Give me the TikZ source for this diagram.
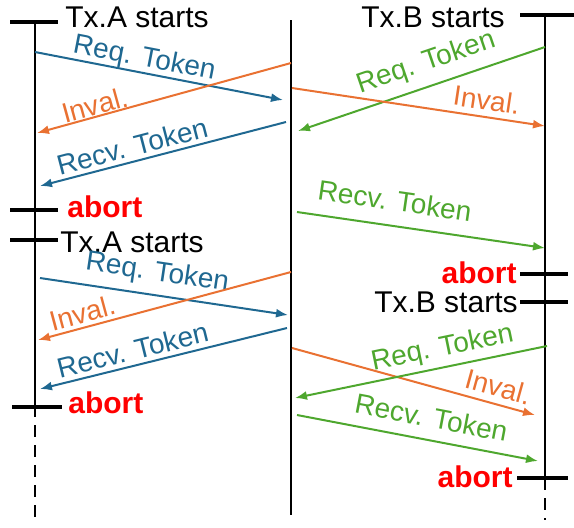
\documentclass[tikz,border=0pt]{standalone}
\usepackage{fontspec}
\setmainfont{Liberation Sans}
\usepackage{tikz}
\usetikzlibrary{arrows.meta}
\definecolor{reqblue}{HTML}{1F6891}
\definecolor{invorange}{HTML}{E97132}
\definecolor{txgreen}{HTML}{4EA72E}
\definecolor{abortred}{HTML}{FF0000}

\begin{document}
\begin{tikzpicture}[x=0.5pt, y=-0.5pt,
        every node/.style={font=\fontsize{14}{16}\selectfont, inner sep=0pt},
        life/.style={line width=1.2pt},
        tick/.style={line width=2pt},
        msg/.style={line width=1pt, -{Latex[length=6pt, width=4.5pt]}},
        lab/.style={sloped, font=\fontsize{14}{16}\selectfont},
        txt/.style={font=\fontsize{15}{17}\selectfont},
        abt/.style={font=\fontsize{15}{17}\selectfont\bfseries, text=abortred}]
      \useasboundingbox (0,0) rectangle (574,527);
      % lifelines
      \coordinate (lA) at (35,22);
      \coordinate (lAend) at (35,405);
      \coordinate (lAdash) at (35,517);
      \coordinate (lM) at (291,20);
      \coordinate (lMend) at (291,515);
      \coordinate (lB) at (545,15);
      \coordinate (lBend) at (545,478);
      \coordinate (lBdash) at (545,520);
      \draw[life] (lA) -- (lAend);
      \draw[life, dash pattern=on 6pt off 4pt] (lAend) -- (lAdash);
      \draw[life] (lM) -- (lMend);
      \draw[life] (lB) -- (lBend);
      \draw[life, dash pattern=on 6pt off 4pt] (lBend) -- (lBdash);
      % ticks
      \draw[tick] (10,22) -- (58,22);
      \draw[tick] (10,210) -- (58,210);
      \draw[tick] (10,240) -- (58,240);
      \draw[tick] (12,407) -- (62,407);
      \draw[tick] (520,15) -- (574,15);
      \draw[tick] (520,274) -- (568,274);
      \draw[tick] (520,302) -- (568,302);
      \draw[tick] (517,478) -- (568,478);
      % tick texts
      \node[txt, anchor=base west] (sA1) at (65,27) {Tx.A starts};
      \node[abt, anchor=base west] (abA1) at (67,217) {abort};
      \node[txt, anchor=base west] (sA2) at (60,252) {Tx.A starts};
      \node[abt, anchor=base west] (abA2) at (68,413) {abort};
      \node[txt, anchor=base east] (sB1) at (505,27) {Tx.B starts};
      \node[abt, anchor=base east] (abB1) at (517,283) {abort};
      \node[txt, anchor=base east] (sB2) at (518,312) {Tx.B starts};
      \node[abt, anchor=base east] (abB2) at (513,487) {abort};
      % first round
      \coordinate (rqA1s) at (35,52);   \coordinate (rqA1e) at (283,100);
      \coordinate (ivA1s) at (291,63);  \coordinate (ivA1e) at (37,133);
      \coordinate (rcA1s) at (286,122); \coordinate (rcA1e) at (40,186);
      \coordinate (rqB1s) at (545,47);  \coordinate (rqB1e) at (298,131);
      \coordinate (ivB1s) at (292,88);  \coordinate (ivB1e) at (545,126);
      \coordinate (rcB1s) at (297,212); \coordinate (rcB1e) at (545,248);
      \draw[msg, reqblue] (rqA1s) -- node[lab, above=0pt, pos=0.43] (tqA1) {Req. Token} (rqA1e);
      \draw[msg, invorange] (ivA1s) -- node[lab, above=0pt, pos=0.76] (tiA1) {Inval.} (ivA1e);
      \draw[msg, reqblue] (rcA1s) -- node[lab, above=2pt, pos=0.61] (tcA1) {Recv. Token} (rcA1e);
      \draw[msg, txgreen] (rqB1s) -- node[lab, above=4.4pt, pos=0.45] (tqB1) {Req. Token} (rqB1e);
      \draw[msg, invorange] (ivB1s) -- node[lab, above=2.9pt, pos=0.76] (tiB1) {Inval.} (ivB1e);
      \draw[msg, txgreen] (rcB1s) -- node[lab, above=7pt, pos=0.38] (tcB1) {Recv. Token} (rcB1e);
      % second round
      \coordinate (rqA2s) at (40,278);  \coordinate (rqA2e) at (288,315);
      \coordinate (ivA2s) at (291,272); \coordinate (ivA2e) at (38,340);
      \coordinate (rcA2s) at (287,328); \coordinate (rcA2e) at (40,389);
      \coordinate (ivB2s) at (292,348); \coordinate (ivB2e) at (535,415);
      \coordinate (rqB2s) at (547,346); \coordinate (rqB2e) at (295,398);
      \coordinate (rcB2s) at (297,415); \coordinate (rcB2e) at (538,461);
      \draw[msg, reqblue] (rqA2s) -- node[lab, above=3.9pt, pos=0.46] (tqA2) {Req. Token} (rqA2e);
      \draw[msg, invorange] (ivA2s) -- node[lab, above=1.7pt, pos=0.81] (tiA2) {Inval.} (ivA2e);
      \draw[msg, reqblue] (rcA2s) -- node[lab, above=2.2pt, pos=0.61] (tcA2) {Recv. Token} (rcA2e);
      \draw[msg, invorange] (ivB2s) -- node[lab, above=3.1pt, pos=0.83] (tiB2) {Inval.} (ivB2e);
      \draw[msg, txgreen] (rqB2s) -- node[lab, above=2.3pt, pos=0.40] (tqB2) {Req. Token} (rqB2e);
      \draw[msg, txgreen] (rcB2s) -- node[lab, above=5.7pt, pos=0.54] (tcB2) {Recv. Token} (rcB2e);
\end{tikzpicture}
\end{document}
